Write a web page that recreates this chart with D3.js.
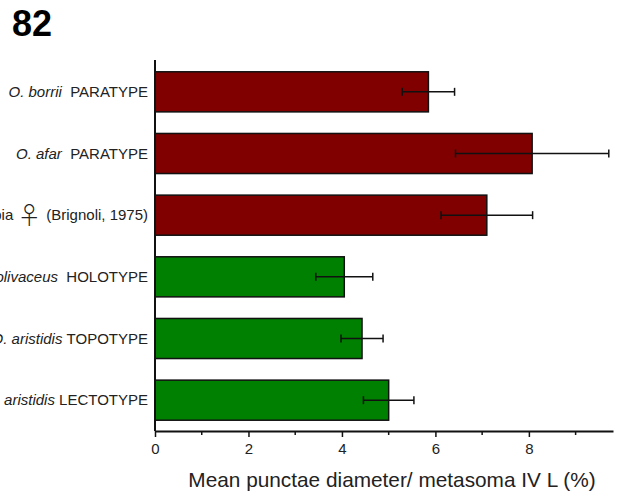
<!DOCTYPE html>
<html>
<head>
<meta charset="utf-8">
<script src="https://cdn.jsdelivr.net/npm/d3@7"></script>
<style>
  html, body { margin: 0; padding: 0; background: #fff; }
  svg { display: block; font-family: Arial, "Liberation Sans", sans-serif; }
</style>
</head>
<body>
<svg id="chart" width="621" height="494"></svg>
<script>
// Specimen groups, top to bottom
const italicNames = ["O. borrii", "O. afar", "", "O. olivaceus", "O. aristidis", "O. aristidis"];
const plainNames  = ["PARATYPE", "PARATYPE", "O. nubia", "HOLOTYPE", "TOPOTYPE", "LECTOTYPE"];
const suffixes    = ["", "", "(Brignoli, 1975)", "", "", ""];
const gaps        = ["\u00a0\u00a0", "\u00a0\u00a0", "", "\u00a0\u00a0", " ", " "];
const means  = [5.85, 8.07, 7.10, 4.05, 4.43, 5.00];
const errors = [0.56, 1.64, 0.98, 0.61, 0.45, 0.54];
const groups = ["red", "red", "red", "green", "green", "green"];
const majorTicks = [0, 2, 4, 6, 8];
const minorTicks = [1, 3, 5, 7, 9];
const panelLabel = "82";
const xTitle = "Mean punctae diameter/ metasoma IV L (%)";

const svg = d3.select("#chart");
const plotLeft = 155, plotRight = 613, plotTop = 61, plotBottom = 431;

const ids = d3.range(means.length);
const x = d3.scaleLinear().domain([0, 9.8]).range([plotLeft, plotRight]);
const y = d3.scaleBand().domain(ids).range([plotTop, plotBottom]).paddingInner(0.35).paddingOuter(0.175);
const fill = d3.scaleOrdinal().domain(["red", "green"]).range(["#800000", "#008000"]);

// Panel number
svg.append("text").attr("x", 12).attr("y", 36)
  .attr("font-size", 36).attr("font-weight", "bold").text(panelLabel);

// Bars
svg.append("g").selectAll("rect").data(ids).join("rect")
  .attr("x", x(0))
  .attr("y", i => y(i))
  .attr("width", i => x(means[i]) - x(0))
  .attr("height", y.bandwidth())
  .attr("fill", i => fill(groups[i]))
  .attr("stroke", "#111").attr("stroke-width", 1.5);

// Error bars (mean ± error)
const eb = svg.append("g").attr("stroke", "#111").attr("stroke-width", 1.5);
ids.forEach(i => {
  const cy = y(i) + y.bandwidth() / 2;
  const x0 = x(means[i] - errors[i]), x1 = x(means[i] + errors[i]);
  eb.append("line").attr("x1", x0).attr("x2", x1).attr("y1", cy).attr("y2", cy);
  eb.append("line").attr("x1", x0).attr("x2", x0).attr("y1", cy - 4).attr("y2", cy + 4);
  eb.append("line").attr("x1", x1).attr("x2", x1).attr("y1", cy - 4).attr("y2", cy + 4);
});

// Category labels
const labels = svg.append("g");
ids.forEach(i => {
  const t = labels.append("text")
    .attr("x", 148).attr("y", y(i) + y.bandwidth() / 2 + 5)
    .attr("text-anchor", "end").attr("font-size", 15).attr("fill", "#222");
  if (italicNames[i]) t.append("tspan").attr("font-style", "italic").text(italicNames[i] + gaps[i]);
  t.append("tspan").text(plainNames[i]);
  if (suffixes[i]) {
    t.append("tspan").attr("font-family", "'Noto Sans CJK JP'").attr("font-weight", 300)
      .attr("font-size", 24).attr("dx", 4).attr("dy", 4).text("\u2640");
    t.append("tspan").attr("dx", 5).attr("dy", -4).text(suffixes[i]);
  }
});

// Y axis line
svg.append("line").attr("x1", plotLeft).attr("x2", plotLeft).attr("y1", 60).attr("y2", plotBottom)
  .attr("stroke", "#111").attr("stroke-width", 2);

// X axis: labelled major ticks, unlabelled minor ticks
const xAxis = svg.append("g").attr("transform", `translate(0,${plotBottom})`)
  .call(d3.axisBottom(x).tickValues(majorTicks).tickSize(6).tickSizeOuter(0).tickPadding(6));
xAxis.select(".domain").attr("stroke", "#111").attr("stroke-width", 2);
xAxis.selectAll(".tick line").attr("stroke", "#111").attr("stroke-width", 1.5);
xAxis.selectAll(".tick text").attr("font-size", 15).attr("font-family", "Arial, 'Liberation Sans', sans-serif").attr("fill", "#222");
svg.append("g").attr("transform", `translate(0,${plotBottom})`)
  .selectAll("line").data(minorTicks).join("line")
  .attr("x1", d => x(d)).attr("x2", d => x(d)).attr("y1", 0).attr("y2", 4)
  .attr("stroke", "#111").attr("stroke-width", 1.5);

// X axis title
svg.append("text").attr("x", 392).attr("y", 487).attr("text-anchor", "middle")
  .attr("font-size", 20.8).attr("fill", "#222").text(xTitle);
</script>
</body>
</html>
